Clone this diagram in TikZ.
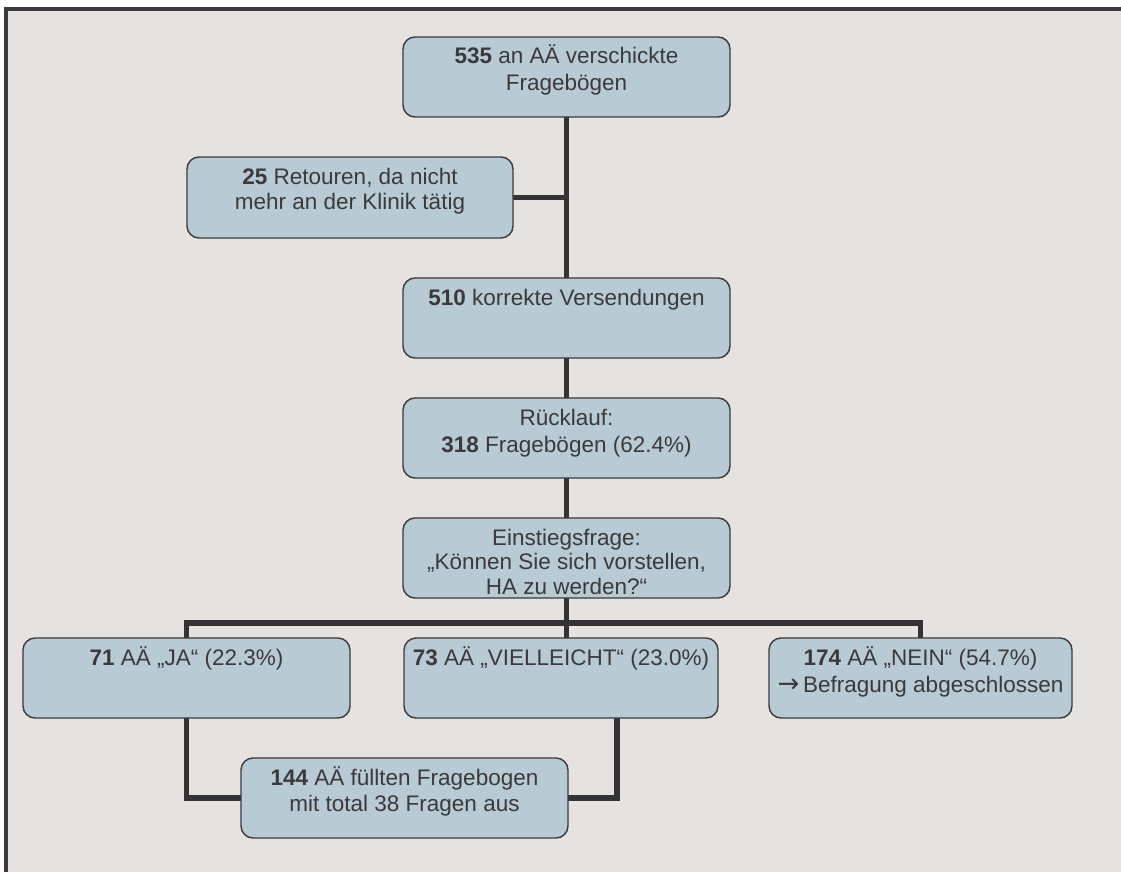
\documentclass[tikz,border=0pt]{standalone}
\usepackage{fontspec}
\setmainfont{Liberation Sans}
\newfontfamily\arrowfont{DejaVu Sans}
\usetikzlibrary{backgrounds}
\definecolor{bg}{HTML}{E6E2DF}
\definecolor{boxfill}{HTML}{B8CAD4}
\definecolor{edge}{HTML}{3A3A3C}
\definecolor{txt}{HTML}{3A3A3C}
\definecolor{wire}{HTML}{333336}
\newcommand\bxt[4]{\parbox[c][#2pt][t]{#1pt}{\centering\fontsize{22.5}{#3}\selectfont\rule{0pt}{27pt}#4}}
\begin{document}
\begin{tikzpicture}[x=1pt,y=-1pt,
  flowbox/.style={draw=edge, line width=1.4pt, fill=boxfill, rounded corners=12pt, inner sep=0pt, outer sep=0pt, text=txt},
  wire/.style={draw=wire, line width=5.5pt, line join=miter}]
\useasboundingbox (0,0) rectangle (1121,872);
\clip (0,0) rectangle (1121,872);
\begin{pgfonlayer}{background}
\fill[white] (0,0) rectangle (1121,872);
\filldraw[fill=bg, draw=edge, line width=4pt] (6,9) rectangle (1135,885);
\end{pgfonlayer}
\node[flowbox] (top) at (566.5,77) {\bxt{327}{80}{27}{\textbf{535} an AÄ verschickte\\Fragebögen}};
\node[flowbox] (ret) at (350,197.5) {\bxt{326}{81}{25}{\textbf{25} Retouren, da nicht\\mehr an der Klinik tätig}};
\node[flowbox] (cor) at (566.5,318) {\bxt{327}{80}{27}{\textbf{510} korrekte Versendungen}};
\node[flowbox] (ruck) at (566.5,438) {\bxt{327}{80}{27}{Rücklauf:\\\textbf{318} Fragebögen (62.4\%)}};
\node[flowbox] (einst) at (566.5,558) {\bxt{327}{80}{24.5}{Einstiegsfrage:\\„Können Sie sich vorstellen,\\HA zu werden?“}};
\node[flowbox] (ja) at (186.5,678) {\bxt{327}{80}{27}{\textbf{71} AÄ „JA“ (22.3\%)}};
\node[flowbox] (vie) at (561,678) {\bxt{314}{80}{27}{\textbf{73} AÄ „VIELLEICHT“ (23.0\%)}};
\node[flowbox] (nein) at (920.5,678) {\bxt{303}{80}{27}{\textbf{174} AÄ „NEIN“ (54.7\%)\\{\arrowfont\fontsize{26}{26}\selectfont →}\,Befragung abgeschlossen}};
\node[flowbox] (res) at (404.5,798) {\bxt{327}{80}{26}{\textbf{144} AÄ füllten Fragebogen\\mit total 38 Fragen aus}};
\coordinate (bus) at (566.5,623);
\begin{pgfonlayer}{background}
\draw[wire] (top.south) -- (cor.north);
\draw[wire] (ret.east) -- (ret.east -| top.south);
\draw[wire] (cor.south) -- (ruck.north);
\draw[wire] (ruck.south) -- (einst.north);
\draw[wire] (einst.south) -- (vie.north -| einst.south);
\draw[wire] (ja.north) -- (ja.north |- bus) -- (nein.north |- bus) -- (nein.north);
\draw[wire] (ja.south) |- (res.west);
\draw[wire] (res.east) -| ([xshift=-101pt]vie.south east);
\end{pgfonlayer}
\end{tikzpicture}
\end{document}
